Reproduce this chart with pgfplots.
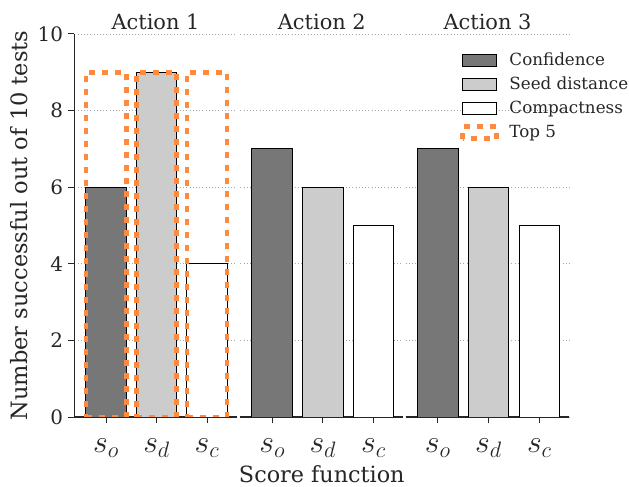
\RequirePackage{fix-cm}
\documentclass[border=0pt]{standalone}
\usepackage{fontspec}
\setmainfont{DejaVu Serif}
\usepackage{pgfplots}
\pgfplotsset{compat=1.18}
\definecolor{darkbar}{HTML}{777777}
\definecolor{lightbar}{HTML}{CCCCCC}
\definecolor{topfive}{HTML}{FF8A3D}
\definecolor{txt}{HTML}{262626}
\pgfplotsset{
  panel/.style={
    scale only axis, height=383bp,
    xmin=-0.63, xmax=2.59, ymin=0, ymax=10,
    xtick={0,1,2}, xticklabels={$s_o$,$s_d$,$s_c$},
    ytick={0,2,4,6,8,10},
    ymajorgrids,
    grid style={gray!70, line width=0.8bp, dash pattern=on 1bp off 2.2bp},
    axis x line*=bottom,
    axis y line*=left,
    tick align=outside,
    major tick length=6bp,
    axis line style={txt, line width=1.2bp},
    tick style={txt, line width=1bp},
    /pgf/number format/assume math mode=true,
    ticklabel style={text=txt},
    yticklabel style={font=\fontsize{20}{24}\selectfont, anchor=east, inner sep=0pt, xshift=-5bp},
    xticklabel style={font=\fontsize{32}{32}\selectfont, anchor=base, inner sep=0pt, yshift=-29.5bp},
    every axis title/.style={font=\fontsize{21}{26}\selectfont, text=txt, at={(axis description cs:0.5,1.013)}, anchor=base},
    every axis x label/.style={font=\fontsize{22.4}{26}\selectfont, text=txt, at={(axis description cs:0.5,-0.172)}, anchor=base},
    every axis y label/.style={font=\fontsize{22.6}{26}\selectfont, text=txt, at={(axis description cs:-0.2851,0.5)}, anchor=base, rotate=90},
    ybar, bar width=0.8, bar shift=0pt,
    every axis plot/.append style={line width=1bp},
  },
  hiddeny/.style={y axis line style={draw=none}, ymajorticks=false},
}
\begin{document}
\begin{tikzpicture}
\useasboundingbox (0,0) rectangle (629bp,487bp);
% Action 1
\begin{axis}[panel, at={(74.3bp,70bp)}, anchor=south west, width=162.5bp,
  title={Action 1},
  ylabel={Number successful out of 10 tests},
]
\addplot[fill=darkbar, draw=black] coordinates {(0,6)};
\addplot[fill=lightbar, draw=black] coordinates {(1,9)};
\addplot[fill=white, draw=black] coordinates {(2,4)};
\addplot[draw=topfive, fill=none, line width=4.5bp, dash pattern=on 6bp off 7bp] coordinates {(0,9) (1,9) (2,9)};
\end{axis}
% Action 2
\begin{axis}[panel, hiddeny, at={(240.3bp,70bp)}, anchor=south west, width=163bp,
  title={Action 2},
  xlabel={Score function},
]
\addplot[fill=darkbar, draw=black] coordinates {(0,7)};
\addplot[fill=lightbar, draw=black] coordinates {(1,6)};
\addplot[fill=white, draw=black] coordinates {(2,5)};
\end{axis}
% Action 3
\begin{axis}[panel, hiddeny, at={(405.7bp,70bp)}, anchor=south west, width=163.6bp,
  title={Action 3},
  legend cell align=left,
  legend style={draw=none, fill=none, at={(axis description cs:0.334,0.9608)}, anchor=north west,
    inner sep=0pt, outer sep=0pt, row sep=0pt,
    nodes={font=\fontsize{16.8}{20}\selectfont, text=txt, inner sep=0pt, text height=16bp, text depth=8.2bp},
    /tikz/every odd column/.append style={column sep=10.6bp}},
]
\addlegendimage{legend image code/.code={\draw[fill=darkbar, draw=black, line width=1bp, solid] (0bp,-5bp) rectangle (34bp,7bp);}}
\addlegendentry{Confidence}
\addlegendimage{legend image code/.code={\draw[fill=lightbar, draw=black, line width=1bp, solid] (0bp,-5bp) rectangle (34bp,7bp);}}
\addlegendentry{Seed distance}
\addlegendimage{legend image code/.code={\draw[fill=white, draw=black, line width=1bp, solid] (0bp,-5bp) rectangle (34bp,7bp);}}
\addlegendentry{Compactness}
\addlegendimage{legend image code/.code={\draw[draw=topfive, line width=4.5bp, dash pattern=on 6bp off 7bp] (0bp,-5bp) rectangle (34bp,7bp);}}
\addlegendentry{Top 5}
\addplot[fill=darkbar, draw=black, forget plot] coordinates {(0,7)};
\addplot[fill=lightbar, draw=black, forget plot] coordinates {(1,6)};
\addplot[fill=white, draw=black, forget plot] coordinates {(2,5)};
\end{axis}
\end{tikzpicture}
\end{document}
